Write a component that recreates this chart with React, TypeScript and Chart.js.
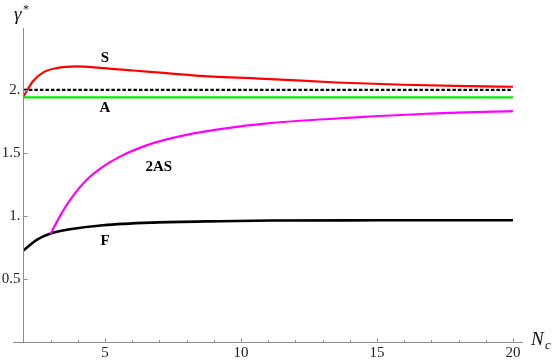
import React, { useEffect, useRef } from "react";
import { Chart, registerables } from "chart.js";

Chart.register(...registerables);

// S curve
const sX = [2, 2.15, 2.36, 2.73, 3.22, 3.96, 4.82, 6.04, 7.27, 8.49, 11.07, 13.52, 15.97, 18.42, 20];
const sY = [1.945, 2.0, 2.07, 2.138, 2.172, 2.185, 2.174, 2.153, 2.132, 2.111, 2.085, 2.058, 2.04, 2.029, 2.024];
// A curve
const aX = [2, 20];
const aY = [1.94, 1.94];
// reference dashed line
const refX = [2, 20];
const refY = [2, 2];
// 2AS curve
const asX = [3, 3.35, 3.72, 4.33, 4.93, 5.55, 6.77, 8.0, 9.23, 11.07, 14.37, 16.8, 20];
const asY = [0.857, 1.0, 1.127, 1.286, 1.39, 1.47, 1.577, 1.643, 1.688, 1.736, 1.783, 1.81, 1.831];
// F curve
const fX = [2, 2.49, 3, 3.71, 4.93, 6.77, 9.23, 11.07, 15, 20];
const fY = [0.725, 0.81, 0.86, 0.894, 0.926, 0.947, 0.958, 0.963, 0.965, 0.966];

const xTicks = [5, 10, 15, 20];
const yTicks = [0.5, 1, 1.5, 2];
const curveLabels = ["S", "A", "2AS", "F"];
const curveLabelX = [5.0, 5.0, 6.98, 5.0];
const curveLabelY = [2.254, 1.857, 1.389, 0.8];

const SERIF = '"Liberation Serif", "Times New Roman", serif';

const pts = (xs: number[], ys: number[]) => xs.map((x, i) => ({ x, y: ys[i] }));

const fmtY = (v: number) => (Number.isInteger(v) ? v + "." : String(v));

const decor = {
  id: "decor",
  afterDatasetsDraw(chart: any) {
    const ctx = chart.ctx;
    const xs = chart.scales.x;
    const ys = chart.scales.y;
    const ca = chart.chartArea;
    ctx.save();
    ctx.strokeStyle = "#8c8c8c";
    ctx.lineWidth = 1;
    const y0 = Math.round(ys.getPixelForValue(0)) + 0.5;
    const x0 = Math.round(xs.getPixelForValue(2)) + 0.5;
    // axes
    ctx.beginPath();
    ctx.moveTo(13, y0);
    ctx.lineTo(ca.right, y0);
    ctx.moveTo(x0, ca.top);
    ctx.lineTo(x0, y0);
    ctx.stroke();
    // x ticks
    ctx.beginPath();
    for (let v = 2; v <= 20; v++) {
      const px = Math.round(xs.getPixelForValue(v)) + 0.5;
      const len = v % 5 === 0 ? 4 : 2.5;
      ctx.moveTo(px, y0);
      ctx.lineTo(px, y0 - len);
    }
    // y ticks
    for (const v of yTicks) {
      const py = Math.round(ys.getPixelForValue(v)) + 0.5;
      ctx.moveTo(x0, py);
      ctx.lineTo(x0 + 4, py);
    }
    ctx.stroke();
    // curve labels
    ctx.fillStyle = "#000";
    ctx.font = "bold 15px " + SERIF;
    ctx.textAlign = "center";
    ctx.textBaseline = "middle";
    curveLabels.forEach((t, i) => {
      ctx.fillText(t, xs.getPixelForValue(curveLabelX[i]), ys.getPixelForValue(curveLabelY[i]));
    });
    // axis titles
    ctx.textAlign = "left";
    ctx.textBaseline = "alphabetic";
    ctx.fillStyle = "#111";
    ctx.font = "italic 19px " + SERIF;
    ctx.fillText("γ", 14, 20);
    ctx.font = "12px " + SERIF;
    ctx.fillText("*", 23, 13);
    ctx.font = "italic 19px " + SERIF;
    ctx.fillText("N", 531, 345);
    ctx.font = "italic 13px " + SERIF;
    ctx.fillText("c", 545, 349);
    ctx.restore();
  },
};

export default function App() {
  const ref = useRef<HTMLCanvasElement>(null);
  useEffect(() => {
    if (!ref.current) return;
    const common = { pointRadius: 0, fill: false, cubicInterpolationMode: "monotone" as const };
    const tickFont = { family: SERIF, size: 15 };
    const chart = new Chart(ref.current, {
      type: "line",
      data: {
        datasets: [
          { ...common, label: "ref", data: pts(refX, refY), borderColor: "#000", borderWidth: 2.2, borderDash: [3.5, 2] },
          { ...common, label: "A", data: pts(aX, aY), borderColor: "#00ee00", borderWidth: 2.2 },
          { ...common, label: "S", data: pts(sX, sY), borderColor: "#ff0000", borderWidth: 2.2 },
          { ...common, label: "2AS", data: pts(asX, asY), borderColor: "#ff00ff", borderWidth: 2.2 },
          { ...common, label: "F", data: pts(fX, fY), borderColor: "#000", borderWidth: 2.6 },
        ],
      },
      options: {
        responsive: false,
        animation: false,
        layout: { padding: { left: 0, top: 28, right: 31, bottom: 0 } },
        plugins: { legend: { display: false }, tooltip: { enabled: false } },
        scales: {
          x: {
            type: "linear",
            min: 2,
            max: 20.37,
            grid: { display: false, drawTicks: false },
            border: { display: false },
            afterFit: (s: any) => { s.height = 20; },
            afterBuildTicks: (s: any) => { s.ticks = xTicks.map((v) => ({ value: v })); },
            ticks: {
              padding: 2,
              color: "#222",
              font: tickFont,
              maxRotation: 0,
              autoSkip: false,
            },
          },
          y: {
            type: "linear",
            min: 0,
            max: 2.49,
            grid: { display: false, drawTicks: false },
            border: { display: false },
            afterFit: (s: any) => { s.width = 23.4; },
            afterBuildTicks: (s: any) => { s.ticks = yTicks.map((v) => ({ value: v })); },
            ticks: {
              padding: 3,
              color: "#222",
              font: tickFont,
              callback: (v: any) => fmtY(Number(v)),
              autoSkip: false,
            },
          },
        },
      },
      plugins: [decor],
    });
    const fonts: any = (document as any).fonts;
    if (fonts && fonts.load) {
      Promise.all([
        fonts.load('15px "Liberation Serif"'),
        fonts.load('bold 15px "Liberation Serif"'),
        fonts.load('italic 19px "Liberation Serif"'),
      ]).then(() => { try { chart.update(); } catch (e) {} }).catch(() => {});
    }
    return () => chart.destroy();
  }, []);
  return (
    <div style={{ position: "fixed", left: 0, top: 0, width: 554, height: 362, background: "#fff" }}>
      <canvas ref={ref} width={554} height={362} style={{ display: "block", width: 554, height: 362 }} />
    </div>
  );
}
